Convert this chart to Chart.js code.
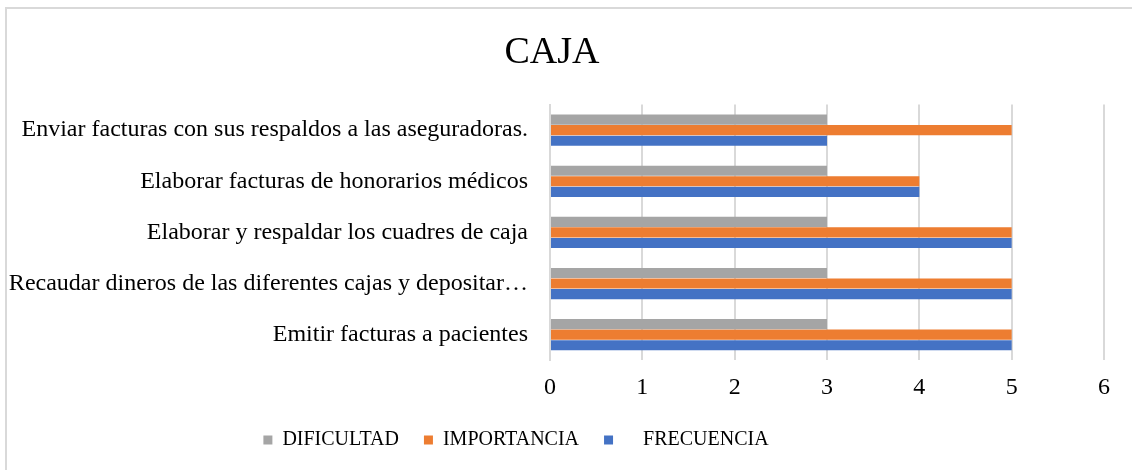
<!DOCTYPE html>
<html>
<head>
<meta charset="utf-8">
<script src="https://cdn.jsdelivr.net/npm/chart.js@4.4.0/dist/chart.umd.min.js"></script>
<style>
    html, body { margin: 0; padding: 0; background: #fff; overflow: hidden; }
    #marco {
        position: absolute; left: 5px; top: 7px;
        width: 1140px; height: 480px;
        border: 2px solid #d9d9d9;
        box-sizing: border-box;
    }
    #lienzo { position: absolute; left: 0; top: 0; }
</style>
</head>
<body>
<div id="marco"></div>
<canvas id="lienzo" width="1132" height="470"></canvas>
<script>
// --- Datos del gráfico CAJA ---
const categorias = [
    'Enviar facturas con sus respaldos a las aseguradoras.',
    'Elaborar facturas de honorarios médicos',
    'Elaborar y respaldar los cuadres de caja',
    'Recaudar dineros de las diferentes cajas y depositar…',
    'Emitir facturas a pacientes'
];
const dificultad  = [3, 3, 3, 3, 3];
const importancia = [5, 4, 5, 5, 5];
const frecuencia  = [3, 4, 5, 5, 5];
const ticksX = [0, 1, 2, 3, 4, 5, 6];

const fuente = "'Liberation Serif', 'Times New Roman', serif";

// la leyenda del original no está centrada en el lienzo: la corremos a la izquierda
const moverLeyenda = {
    id: 'moverLeyenda',
    afterLayout(chart) {
        if (chart.legend) {
            chart.legend.left -= 36;
            chart.legend.right -= 36;
        }
    }
};

const ctx = document.getElementById('lienzo').getContext('2d');

new Chart(ctx, {
    type: 'bar',
    data: {
        labels: categorias,
        datasets: [
            { label: 'DIFICULTAD', data: dificultad, backgroundColor: '#A5A5A5' },
            { label: 'IMPORTANCIA', data: importancia, backgroundColor: '#ED7D31' },
            { label: 'FRECUENCIA', data: frecuencia, backgroundColor: '#4472C4' }
        ]
    },
    plugins: [moverLeyenda],
    options: {
        indexAxis: 'y',
        responsive: false,
        animation: false,
        layout: { padding: { top: 8, right: 28, bottom: 10, left: 0 } },
        datasets: {
            bar: { categoryPercentage: 0.62, barPercentage: 0.96, borderWidth: 0 }
        },
        scales: {
            x: {
                min: ticksX[0],
                max: ticksX[ticksX.length - 1],
                afterBuildTicks: (eje) => { eje.ticks = ticksX.map(v => ({ value: v })); },
                grid: { color: '#d9d9d9', lineWidth: 2, drawTicks: false },
                border: { display: false },
                ticks: { color: '#000', padding: 13, font: { family: fuente, size: 24 } }
            },
            y: {
                grid: { display: false },
                border: { display: true, color: '#d9d9d9', width: 2 },
                afterFit: (eje) => { eje.width = 550; },
                ticks: { color: '#000', padding: 14, font: { family: fuente, size: 24 } }
            }
        },
        plugins: {
            title: {
                display: true,
                text: 'CAJA',
                color: '#000',
                font: { family: fuente, size: 38, weight: 'normal' },
                padding: { top: 22, bottom: 29 }
            },
            legend: {
                position: 'bottom',
                labels: {
                    color: '#000',
                    boxWidth: 9,
                    boxHeight: 9,
                    padding: 15,
                    font: { family: fuente, size: 20 },
                    generateLabels: (chart) => {
                        const items = Chart.defaults.plugins.legend.labels.generateLabels(chart);
                        // espacios como en el original
                        items.forEach(it => {
                            if (it.text === 'FRECUENCIA') it.text = '    ' + it.text;
                            else it.text = it.text + '  ';
                        });
                        return items;
                    }
                }
            },
            tooltip: { enabled: false }
        }
    }
});
</script>
</body>
</html>
